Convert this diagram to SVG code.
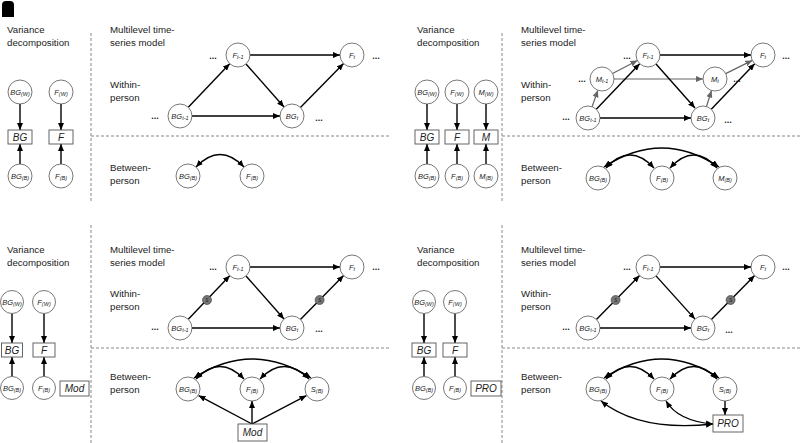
<svg xmlns="http://www.w3.org/2000/svg" width="800" height="443" viewBox="0 0 800 443">
<style>
.t{font-family:"Liberation Sans",Arial,sans-serif;font-size:9.7px;fill:#222}
.nc{fill:#fff;stroke:#555;stroke-width:0.8}
.bx{fill:#fff;stroke:#555;stroke-width:0.9}
.nl{font-family:"Liberation Sans",Arial,sans-serif;font-style:italic;font-size:7.5px;fill:#222;text-anchor:middle}
.sb{font-size:5.5px}
.bl{font-family:"Liberation Sans",Arial,sans-serif;font-style:italic;font-size:10px;fill:#222;text-anchor:middle}
.dots{font-family:"Liberation Sans",Arial,sans-serif;font-size:9px;font-weight:bold;fill:#222;text-anchor:middle}
.dash{stroke:#888;stroke-width:1;stroke-dasharray:3 2;fill:none}
.e{stroke:#000;stroke-width:1.4;fill:none;marker-end:url(#ah)}
.eg{stroke:#666;stroke-width:1.2;fill:none;marker-end:url(#ahg)}
.d{marker-start:url(#ah)}
.sn{fill:#777;stroke:#333;stroke-width:0.6}
.sl{font-family:"Liberation Sans",Arial,sans-serif;font-style:italic;font-size:5px;fill:#222;text-anchor:middle}
</style>
<defs>
<marker id="ah" viewBox="0 0 7 6" refX="7" refY="3" markerWidth="7" markerHeight="6" markerUnits="userSpaceOnUse" orient="auto-start-reverse"><path d="M0,0 L7,3 L0,6 z" fill="#000"/></marker>
<marker id="ahg" viewBox="0 0 7 6" refX="7" refY="3" markerWidth="7" markerHeight="6" markerUnits="userSpaceOnUse" orient="auto-start-reverse"><path d="M0,0 L7,3 L0,6 z" fill="#666"/></marker>
</defs>
<rect width="800" height="443" fill="#fff"/>
<path d="M2,17 L2,5 Q2,1 6,1 L10,1 Q14,1 14,5 L14,17 z" fill="#000"/>

<!-- Panel A -->
<g id="panel-a">
<g id="a-labels">
<text class="t" x="7" y="33">Variance</text>
<text class="t" x="7" y="46">decomposition</text>
<text class="t" x="110" y="33">Multilevel time-</text>
<text class="t" x="110" y="46">series model</text>
<text class="t" x="110" y="88">Within-</text>
<text class="t" x="110" y="101">person</text>
<text class="t" x="110" y="171">Between-</text>
<text class="t" x="110" y="184">person</text>
<text class="dots" x="213" y="59">...</text>
<text class="dots" x="376" y="59">...</text>
<text class="dots" x="155" y="119">...</text>
<text class="dots" x="319" y="121">...</text>
</g>
<line class="dash" x1="91" y1="33" x2="91" y2="202"/>
<line class="dash" x1="91" y1="136" x2="390" y2="136"/>
<g id="a-edges">
<line class="e" x1="20" y1="104" x2="20" y2="130"/>
<line class="e" x1="61" y1="104" x2="61" y2="130"/>
<line class="e" x1="20" y1="164" x2="20" y2="144"/>
<line class="e" x1="61" y1="164" x2="61" y2="144"/>
<line class="e" x1="188.3" y1="107.3" x2="229.7" y2="63.7"/>
<line class="e" x1="250" y1="55" x2="340" y2="55"/>
<line class="e" x1="246" y1="64" x2="284" y2="107"/>
<line class="e" x1="192" y1="116" x2="280" y2="116"/>
<line class="e" x1="300.4" y1="107.4" x2="343.6" y2="63.6"/>
<path class="e d" d="M196,167 Q220,142 244,167"/>
</g>
<g id="a-bgw"><circle class="nc" cx="20" cy="92" r="12"/><text class="nl" x="20" y="94.5" font-size="7">BG<tspan class="sb" dy="1.5">(W)</tspan></text></g>
<g id="a-fw"><circle class="nc" cx="61" cy="92" r="12"/><text class="nl" x="61" y="94.5">F<tspan class="sb" dy="1.5">(W)</tspan></text></g>
<g id="a-bg"><rect class="bx" x="8" y="130" width="24" height="14"/><text class="bl" x="20" y="140.5">BG</text></g>
<g id="a-f"><rect class="bx" x="49" y="130" width="24" height="14"/><text class="bl" x="61" y="140.5">F</text></g>
<g id="a-bgb"><circle class="nc" cx="20" cy="176" r="12"/><text class="nl" x="20" y="178.5" font-size="7">BG<tspan class="sb" dy="1.5">(B)</tspan></text></g>
<g id="a-fb"><circle class="nc" cx="61" cy="176" r="12"/><text class="nl" x="61" y="178.5">F<tspan class="sb" dy="1.5">(B)</tspan></text></g>
<g id="a-ft1"><circle class="nc" cx="238" cy="55" r="12"/><text class="nl" x="238" y="57.5">F<tspan class="sb" dy="1.5">t-1</tspan></text></g>
<g id="a-ft"><circle class="nc" cx="352" cy="55" r="12"/><text class="nl" x="352" y="57.5">F<tspan class="sb" dy="1.5">t</tspan></text></g>
<g id="a-bgt1"><circle class="nc" cx="180" cy="116" r="12"/><text class="nl" x="180" y="118.5">BG<tspan class="sb" dy="1.5">t-1</tspan></text></g>
<g id="a-bgt"><circle class="nc" cx="292" cy="116" r="12"/><text class="nl" x="292" y="118.5">BG<tspan class="sb" dy="1.5">t</tspan></text></g>
<g id="a-bgB"><circle class="nc" cx="188" cy="176" r="12"/><text class="nl" x="188" y="178.5">BG<tspan class="sb" dy="1.5">(B)</tspan></text></g>
<g id="a-fB"><circle class="nc" cx="252" cy="176" r="12"/><text class="nl" x="252" y="178.5">F<tspan class="sb" dy="1.5">(B)</tspan></text></g>
</g>

<!-- Panel B -->
<g id="panel-b">
<g id="b-labels">
<text class="t" x="417" y="33">Variance</text>
<text class="t" x="417" y="46">decomposition</text>
<text class="t" x="521" y="33">Multilevel time-</text>
<text class="t" x="521" y="46">series model</text>
<text class="t" x="521" y="88">Within-</text>
<text class="t" x="521" y="101">person</text>
<text class="t" x="521" y="171">Between-</text>
<text class="t" x="521" y="184">person</text>
<text class="dots" x="627" y="59">...</text>
<text class="dots" x="786" y="59">...</text>
<text class="dots" x="582" y="82">...</text>
<text class="dots" x="737" y="82">...</text>
<text class="dots" x="566" y="120">...</text>
<text class="dots" x="728" y="123">...</text>
</g>
<line class="dash" x1="502" y1="33" x2="502" y2="202"/>
<line class="dash" x1="502" y1="136" x2="800" y2="136"/>
<g id="b-edges">
<line class="e" x1="427" y1="104" x2="427" y2="130"/>
<line class="e" x1="457" y1="104" x2="457" y2="130"/>
<line class="e" x1="486" y1="104" x2="486" y2="130"/>
<line class="e" x1="427" y1="164" x2="427" y2="144"/>
<line class="e" x1="457" y1="164" x2="457" y2="144"/>
<line class="e" x1="486" y1="164" x2="486" y2="144"/>
<line class="eg" x1="592.1" y1="106.7" x2="597.9" y2="90.3"/>
<line class="eg" x1="612.6" y1="73.5" x2="637.4" y2="60.5"/>
<line class="eg" x1="614" y1="79" x2="703" y2="79"/>
<line class="eg" x1="706.5" y1="106.5" x2="711.5" y2="90.5"/>
<line class="eg" x1="725.7" y1="73.6" x2="752.3" y2="60.4"/>
<line class="e" x1="596.3" y1="109.3" x2="639.7" y2="63.7"/>
<line class="e" x1="660" y1="55" x2="751" y2="55"/>
<line class="e" x1="656" y1="64" x2="695" y2="108"/>
<line class="e" x1="600" y1="118" x2="691" y2="118"/>
<line class="e" x1="711.3" y1="109.3" x2="754.7" y2="63.7"/>
<path class="e d" d="M606,168 Q630,142 654,168"/>
<path class="e d" d="M670,168 Q694,142 717,168"/>
<path class="e d" d="M604,167 Q662,129 719,167"/>
</g>
<g id="b-bgw"><circle class="nc" cx="427" cy="92" r="12"/><text class="nl" x="427" y="94.5" font-size="7">BG<tspan class="sb" dy="1.5">(W)</tspan></text></g>
<g id="b-fw"><circle class="nc" cx="457" cy="92" r="12"/><text class="nl" x="457" y="94.5">F<tspan class="sb" dy="1.5">(W)</tspan></text></g>
<g id="b-mw"><circle class="nc" cx="486" cy="92" r="12"/><text class="nl" x="486" y="94.5">M<tspan class="sb" dy="1.5">(W)</tspan></text></g>
<g id="b-bg"><rect class="bx" x="415" y="130" width="24" height="14"/><text class="bl" x="427" y="140.5">BG</text></g>
<g id="b-f"><rect class="bx" x="445" y="130" width="24" height="14"/><text class="bl" x="457" y="140.5">F</text></g>
<g id="b-m"><rect class="bx" x="474" y="130" width="24" height="14"/><text class="bl" x="486" y="140.5">M</text></g>
<g id="b-bgb"><circle class="nc" cx="427" cy="176" r="12"/><text class="nl" x="427" y="178.5" font-size="7">BG<tspan class="sb" dy="1.5">(B)</tspan></text></g>
<g id="b-fb"><circle class="nc" cx="457" cy="176" r="12"/><text class="nl" x="457" y="178.5">F<tspan class="sb" dy="1.5">(B)</tspan></text></g>
<g id="b-mb"><circle class="nc" cx="486" cy="176" r="12"/><text class="nl" x="486" y="178.5">M<tspan class="sb" dy="1.5">(B)</tspan></text></g>
<g id="b-ft1"><circle class="nc" cx="648" cy="55" r="12"/><text class="nl" x="648" y="57.5">F<tspan class="sb" dy="1.5">t-1</tspan></text></g>
<g id="b-ft"><circle class="nc" cx="763" cy="55" r="12"/><text class="nl" x="763" y="57.5">F<tspan class="sb" dy="1.5">t</tspan></text></g>
<g id="b-mt1"><circle class="nc" cx="602" cy="79" r="12"/><text class="nl" x="602" y="81.5">M<tspan class="sb" dy="1.5">t-1</tspan></text></g>
<g id="b-mt"><circle class="nc" cx="715" cy="79" r="12"/><text class="nl" x="715" y="81.5">M<tspan class="sb" dy="1.5">t</tspan></text></g>
<g id="b-bgt1"><circle class="nc" cx="588" cy="118" r="12"/><text class="nl" x="588" y="120.5">BG<tspan class="sb" dy="1.5">t-1</tspan></text></g>
<g id="b-bgt"><circle class="nc" cx="703" cy="118" r="12"/><text class="nl" x="703" y="120.5">BG<tspan class="sb" dy="1.5">t</tspan></text></g>
<g id="b-bgB"><circle class="nc" cx="598" cy="178" r="12"/><text class="nl" x="598" y="180.5">BG<tspan class="sb" dy="1.5">(B)</tspan></text></g>
<g id="b-fB"><circle class="nc" cx="662" cy="178" r="12"/><text class="nl" x="662" y="180.5">F<tspan class="sb" dy="1.5">(B)</tspan></text></g>
<g id="b-mB"><circle class="nc" cx="725" cy="178" r="12"/><text class="nl" x="725" y="180.5">M<tspan class="sb" dy="1.5">(B)</tspan></text></g>
</g>

<!-- Panel C -->
<g id="panel-c">
<g id="c-labels">
<text class="t" x="7" y="253">Variance</text>
<text class="t" x="7" y="266">decomposition</text>
<text class="t" x="110" y="253">Multilevel time-</text>
<text class="t" x="110" y="266">series model</text>
<text class="t" x="110" y="297">Within-</text>
<text class="t" x="110" y="310">person</text>
<text class="t" x="110" y="380">Between-</text>
<text class="t" x="110" y="393">person</text>
<text class="dots" x="213" y="270">...</text>
<text class="dots" x="376" y="270">...</text>
<text class="dots" x="155" y="330">...</text>
<text class="dots" x="319" y="332">...</text>
</g>
<line class="dash" x1="91" y1="225" x2="91" y2="443"/>
<line class="dash" x1="91" y1="348" x2="390" y2="348"/>
<g id="c-edges">
<line class="e" x1="12" y1="313.5" x2="12" y2="343"/>
<line class="e" x1="44" y1="313.5" x2="44" y2="343"/>
<line class="e" x1="12" y1="376.5" x2="12" y2="357"/>
<line class="e" x1="44" y1="376.5" x2="44" y2="357"/>
<line class="e" x1="188.3" y1="319.3" x2="229.7" y2="275.7"/>
<line class="e" x1="250" y1="267" x2="340" y2="267"/>
<line class="e" x1="246" y1="276" x2="284" y2="319"/>
<line class="e" x1="192" y1="328" x2="280" y2="328"/>
<line class="e" x1="300.4" y1="319.4" x2="343.6" y2="275.6"/>
<path class="e d" d="M196,379 Q220,354 244,379"/>
<path class="e d" d="M260,379 Q284,354 309,379"/>
<path class="e d" d="M194,378 Q252,340 311,378"/>
<line class="e" x1="252" y1="424" x2="198.6" y2="395.6"/>
<line class="e" x1="252" y1="424" x2="252" y2="401"/>
<line class="e" x1="252" y1="424" x2="306.4" y2="395.6"/>
</g>
<g id="c-s1"><circle class="sn" cx="207" cy="300" r="4.5"/><text class="sl" x="207" y="301.8">S</text></g>
<g id="c-s2"><circle class="sn" cx="319.6" cy="300" r="4.5"/><text class="sl" x="319.6" y="301.8">S</text></g>
<g id="c-bgw"><circle class="nc" cx="12" cy="302" r="11.5"/><text class="nl" x="12" y="304.5" font-size="7">BG<tspan class="sb" dy="1.5">(W)</tspan></text></g>
<g id="c-fw"><circle class="nc" cx="44" cy="302" r="11.5"/><text class="nl" x="44" y="304.5">F<tspan class="sb" dy="1.5">(W)</tspan></text></g>
<g id="c-bg"><rect class="bx" x="1.5" y="343" width="21" height="14"/><text class="bl" x="12" y="353.5">BG</text></g>
<g id="c-f"><rect class="bx" x="33" y="343" width="22" height="14"/><text class="bl" x="44" y="353.5">F</text></g>
<g id="c-mod"><rect class="bx" x="60" y="381" width="29" height="15"/><text class="bl" x="74.5" y="392">Mod</text></g>
<g id="c-bgb"><circle class="nc" cx="12" cy="388" r="11.5"/><text class="nl" x="12" y="390.5" font-size="7">BG<tspan class="sb" dy="1.5">(B)</tspan></text></g>
<g id="c-fb"><circle class="nc" cx="44" cy="388" r="11.5"/><text class="nl" x="44" y="390.5">F<tspan class="sb" dy="1.5">(B)</tspan></text></g>
<g id="c-ft1"><circle class="nc" cx="238" cy="267" r="12"/><text class="nl" x="238" y="269.5">F<tspan class="sb" dy="1.5">t-1</tspan></text></g>
<g id="c-ft"><circle class="nc" cx="352" cy="267" r="12"/><text class="nl" x="352" y="269.5">F<tspan class="sb" dy="1.5">t</tspan></text></g>
<g id="c-bgt1"><circle class="nc" cx="180" cy="328" r="12"/><text class="nl" x="180" y="330.5">BG<tspan class="sb" dy="1.5">t-1</tspan></text></g>
<g id="c-bgt"><circle class="nc" cx="292" cy="328" r="12"/><text class="nl" x="292" y="330.5">BG<tspan class="sb" dy="1.5">t</tspan></text></g>
<g id="c-bgB"><circle class="nc" cx="188" cy="389" r="12"/><text class="nl" x="188" y="391.5">BG<tspan class="sb" dy="1.5">(B)</tspan></text></g>
<g id="c-fB"><circle class="nc" cx="252" cy="389" r="12"/><text class="nl" x="252" y="391.5">F<tspan class="sb" dy="1.5">(B)</tspan></text></g>
<g id="c-sB"><circle class="nc" cx="317" cy="389" r="12"/><text class="nl" x="317" y="391.5">S<tspan class="sb" dy="1.5">(B)</tspan></text></g>
<g id="c-modB"><rect class="bx" x="238" y="424" width="29" height="17"/><text class="bl" x="252.5" y="436">Mod</text></g>
</g>

<!-- Panel D -->
<g id="panel-d">
<g id="d-labels">
<text class="t" x="417" y="253">Variance</text>
<text class="t" x="417" y="266">decomposition</text>
<text class="t" x="521" y="253">Multilevel time-</text>
<text class="t" x="521" y="266">series model</text>
<text class="t" x="521" y="297">Within-</text>
<text class="t" x="521" y="310">person</text>
<text class="t" x="521" y="380">Between-</text>
<text class="t" x="521" y="393">person</text>
<text class="dots" x="627" y="270">...</text>
<text class="dots" x="786" y="270">...</text>
<text class="dots" x="566" y="330">...</text>
<text class="dots" x="729" y="333">...</text>
</g>
<line class="dash" x1="502" y1="225" x2="502" y2="443"/>
<line class="dash" x1="502" y1="348" x2="800" y2="348"/>
<g id="d-edges">
<line class="e" x1="424" y1="313.5" x2="424" y2="343"/>
<line class="e" x1="455" y1="313.5" x2="455" y2="343"/>
<line class="e" x1="424" y1="376.5" x2="424" y2="357"/>
<line class="e" x1="455" y1="376.5" x2="455" y2="357"/>
<line class="e" x1="596.4" y1="319.4" x2="639.6" y2="275.6"/>
<line class="e" x1="660" y1="267" x2="751" y2="267"/>
<line class="e" x1="656" y1="275.9" x2="695" y2="319.1"/>
<line class="e" x1="600" y1="328" x2="691" y2="328"/>
<line class="e" x1="711.4" y1="319.4" x2="754.6" y2="275.6"/>
<path class="e d" d="M606,379 Q630,354 654,379"/>
<path class="e d" d="M670,379 Q694,354 717,379"/>
<path class="e d" d="M604,378 Q662,340 719,378"/>
<line class="e" x1="725" y1="401" x2="725" y2="415"/>
<path class="e d" d="M601,401 Q640,432 713,424"/>
<path class="e d" d="M666,401 Q678,421 713,424"/>
</g>
<g id="d-s1"><circle class="sn" cx="615.6" cy="300" r="4.5"/><text class="sl" x="615.6" y="301.8">S</text></g>
<g id="d-s2"><circle class="sn" cx="730.6" cy="300" r="4.5"/><text class="sl" x="730.6" y="301.8">S</text></g>
<g id="d-bgw"><circle class="nc" cx="424" cy="302" r="11.5"/><text class="nl" x="424" y="304.5" font-size="7">BG<tspan class="sb" dy="1.5">(W)</tspan></text></g>
<g id="d-fw"><circle class="nc" cx="455" cy="302" r="11.5"/><text class="nl" x="455" y="304.5">F<tspan class="sb" dy="1.5">(W)</tspan></text></g>
<g id="d-bg"><rect class="bx" x="412" y="343" width="24" height="14"/><text class="bl" x="424" y="353.5">BG</text></g>
<g id="d-f"><rect class="bx" x="443" y="343" width="24" height="14"/><text class="bl" x="455" y="353.5">F</text></g>
<g id="d-pro"><rect class="bx" x="471" y="381" width="30" height="15"/><text class="bl" x="486" y="392">PRO</text></g>
<g id="d-bgb"><circle class="nc" cx="424" cy="388" r="11.5"/><text class="nl" x="424" y="390.5" font-size="7">BG<tspan class="sb" dy="1.5">(B)</tspan></text></g>
<g id="d-fb"><circle class="nc" cx="455" cy="388" r="11.5"/><text class="nl" x="455" y="390.5">F<tspan class="sb" dy="1.5">(B)</tspan></text></g>
<g id="d-ft1"><circle class="nc" cx="648" cy="267" r="12"/><text class="nl" x="648" y="269.5">F<tspan class="sb" dy="1.5">t-1</tspan></text></g>
<g id="d-ft"><circle class="nc" cx="763" cy="267" r="12"/><text class="nl" x="763" y="269.5">F<tspan class="sb" dy="1.5">t</tspan></text></g>
<g id="d-bgt1"><circle class="nc" cx="588" cy="328" r="12"/><text class="nl" x="588" y="330.5">BG<tspan class="sb" dy="1.5">t-1</tspan></text></g>
<g id="d-bgt"><circle class="nc" cx="703" cy="328" r="12"/><text class="nl" x="703" y="330.5">BG<tspan class="sb" dy="1.5">t</tspan></text></g>
<g id="d-bgB"><circle class="nc" cx="598" cy="389" r="12"/><text class="nl" x="598" y="391.5">BG<tspan class="sb" dy="1.5">(B)</tspan></text></g>
<g id="d-fB"><circle class="nc" cx="662" cy="389" r="12"/><text class="nl" x="662" y="391.5">F<tspan class="sb" dy="1.5">(B)</tspan></text></g>
<g id="d-sB"><circle class="nc" cx="725" cy="389" r="12"/><text class="nl" x="725" y="391.5">S<tspan class="sb" dy="1.5">(B)</tspan></text></g>
<g id="d-proB"><rect class="bx" x="713" y="415" width="30" height="17"/><text class="bl" x="728" y="427">PRO</text></g>
</g>
</svg>
